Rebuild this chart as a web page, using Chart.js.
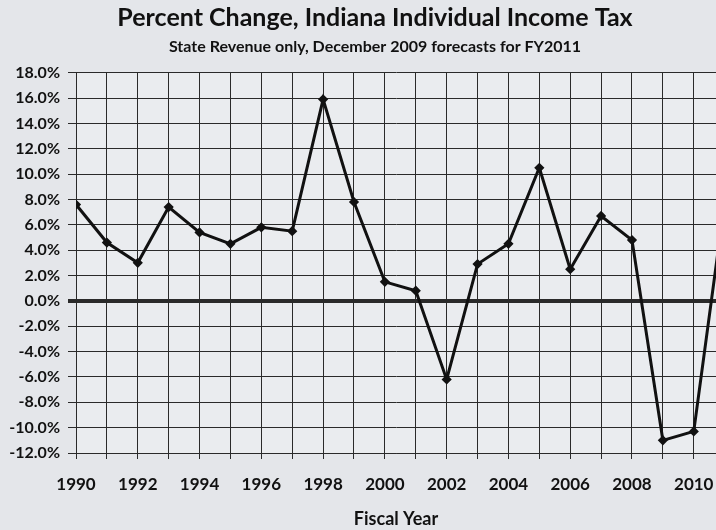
<!DOCTYPE html>
<html>
<head>
<meta charset="utf-8">
<script src="https://cdn.jsdelivr.net/npm/chart.js@4.4.1/dist/chart.umd.min.js"></script>
<style>
  html, body { margin: 0; padding: 0; background: #e4e6ea; overflow: hidden; }
  #wrap { width: 716px; height: 530px; }
</style>
</head>
<body>
<div id="wrap"><canvas id="myChartIncomeTax"></canvas></div>
<script>
// fiscal years and percent change (state revenue only, Dec 2009 forecast)
var years = [1990, 1991, 1992, 1993, 1994, 1995, 1996, 1997, 1998, 1999, 2000,
             2001, 2002, 2003, 2004, 2005, 2006, 2007, 2008, 2009, 2010, 2011];
var pctChange = [7.6, 4.6, 3.0, 7.4, 5.4, 4.5, 5.8, 5.5, 15.9, 7.8, 1.5,
                 0.8, -6.2, 2.9, 4.5, 10.5, 2.5, 6.7, 4.8, -11.0, -10.3, 7.8];
var yTicks = [-12, -10, -8, -6, -4, -2, 0, 2, 4, 6, 8, 10, 12, 14, 16, 18];
var xTickLabels = ['1990', '1992', '1994', '1996', '1998', '2000', '2002', '2004', '2006', '2008', '2010'];

var bgPlugin = {
    id: 'bg',
    beforeDraw: function (chart) {
        var c = chart.ctx;
        c.save();
        c.fillStyle = '#e4e6ea';
        c.fillRect(0, 0, chart.width, chart.height);
        c.fillStyle = '#eaecef';
        var a = chart.chartArea;
        c.fillRect(a.left, a.top, a.right - a.left, a.bottom - a.top);
        c.restore();
    }
};

// the printed titles sit a bit right of the page centre
var titleShift = {
    id: 'titleShift',
    afterLayout: function (chart) {
        chart.boxes.forEach(function (b) {
            if (b.options && b.options.text !== undefined && b.fullSize) {
                b.left = 34;
            }
        });
    }
};

const ctx = document.getElementById('myChartIncomeTax');

new Chart(ctx, {
    type: 'line',
    data: {
        datasets: [
            {
                label: 'Percent change',
                data: years.map(function (y, i) { return { x: y, y: pctChange[i] }; }),
                borderColor: '#111',
                backgroundColor: '#111',
                borderWidth: 3,
                pointStyle: 'rectRot',
                pointRadius: 3,
                tension: 0
            }
        ]
    },
    options: {
        responsive: true,
        maintainAspectRatio: false,
        animation: false,
        layout: { padding: 0, autoPadding: false },
        plugins: {
            legend: { display: false },
            tooltip: { enabled: false },
            title: {
                display: true,
                text: 'Percent Change, Indiana Individual Income Tax',
                color: '#111',
                font: { family: 'Lato', size: 25, weight: 'bold' },
                padding: { top: 3, bottom: 0 }
            },
            subtitle: {
                display: true,
                text: 'State Revenue only, December 2009 forecasts for FY2011',
                color: '#111',
                font: { family: 'Lato', size: 16, weight: 'bold' },
                padding: { top: 4, bottom: 16.5 }
            }
        },
        scales: {
            x: {
                type: 'linear',
                min: years[0],
                max: 2010.72,
                afterBuildTicks: function (scale) {
                    scale.ticks = years.filter(function (y) { return y <= scale.max; })
                        .map(function (y) { return { value: y }; });
                },
                afterFit: function (scale) { scale.height = 77; scale.paddingRight = 0; },
                grid: { color: '#2a2a2a', lineWidth: 1, tickLength: 6 },
                border: { color: '#2a2a2a', width: 1 },
                ticks: {
                    autoSkip: false,
                    maxRotation: 0,
                    padding: 15,
                    color: '#111',
                    font: { family: 'Lato', size: 17, weight: 'bold' },
                    callback: function (v) {
                        var s = String(v);
                        return xTickLabels.indexOf(s) >= 0 ? s : '';
                    }
                },
                title: {
                    display: true,
                    text: 'Fiscal Year',
                    color: '#111',
                    font: { family: 'Lato', size: 18, weight: 'bold' },
                    padding: { top: 0, bottom: 0 }
                }
            },
            y: {
                min: yTicks[0],
                max: yTicks[yTicks.length - 1],
                afterBuildTicks: function (scale) {
                    scale.ticks = yTicks.map(function (v) { return { value: v }; });
                },
                afterFit: function (scale) { scale.width = 76; },
                grid: {
                    color: '#2a2a2a',
                    tickLength: 8,
                    lineWidth: function (c) { return c.tick && c.tick.value === 0 ? 4 : 1; }
                },
                border: { color: '#2a2a2a', width: 1 },
                ticks: {
                    padding: 8,
                    color: '#111',
                    font: { family: 'Lato', size: 16, weight: 'bold' },
                    callback: function (v) { return v.toFixed(1) + '%'; }
                }
            }
        }
    },
    plugins: [bgPlugin, titleShift]
});
</script>
</body>
</html>
